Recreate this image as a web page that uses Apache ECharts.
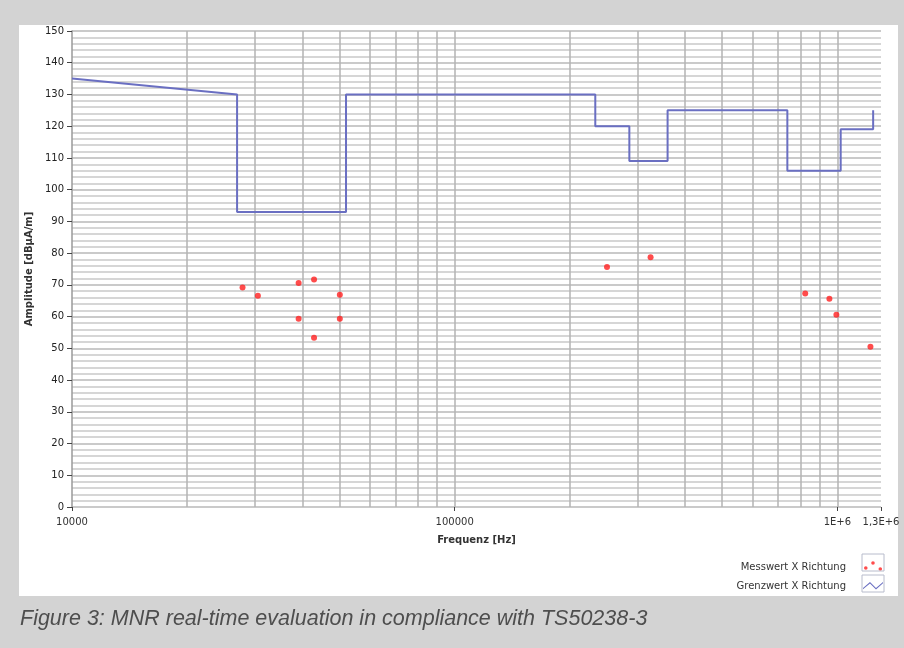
<!DOCTYPE html>
<html>
<head>
<meta charset="utf-8">
<script src="https://cdn.jsdelivr.net/npm/echarts@6/dist/echarts.min.js"></script>
<style>
html,body{margin:0;padding:0;background:#d3d3d3;}
#chart{width:904px;height:648px;}
</style>
</head>
<body>
<div id="chart"></div>
<script>
// ---- data ----
var limitFreq = [10000, 27000, 27000, 52000, 52000, 233000, 233000, 286000, 286000, 360000, 360000, 740000, 740000, 1020000, 1020000, 1240000, 1240000];
var limitAmp  = [135, 130, 93, 93, 130, 130, 120, 120, 109, 109, 125, 125, 106, 106, 119, 119, 125];
var measFreq = [27900, 30600, 39100, 42900, 50100, 39100, 50100, 42900, 250000, 325000, 824000, 953000, 994000, 1220000];
var measAmp  = [69.2, 66.6, 70.6, 71.7, 66.9, 59.3, 59.3, 53.3, 75.6, 78.7, 67.3, 65.6, 60.6, 50.5];
var xTickValues = [10000, 100000, 1000000, 1300000];
var xTickLabels = ['10000', '100000', '1E+6', '1,3E+6'];
var xGridValues = [20000, 30000, 40000, 50000, 60000, 70000, 80000, 90000, 100000,
                   200000, 300000, 400000, 500000, 600000, 700000, 800000, 900000, 1000000];
var seriesNames = ['Messwert X Richtung', 'Grenzwert X Richtung'];

var limitData = limitFreq.map(function (f, i) { return [f, limitAmp[i]]; });
var measData = measFreq.map(function (f, i) { return [f, measAmp[i]]; });

var chart = echarts.init(document.getElementById('chart'));
var font = 'DejaVu Sans';
chart.setOption({
  backgroundColor: '#d3d3d3',
  animation: false,
  graphic: [
    { type: 'rect', z: -10, shape: { x: 19, y: 25, width: 879, height: 571 }, style: { fill: '#ffffff' } },
    { type: 'rect', z: 10, shape: { x: 862, y: 554, width: 22, height: 17 }, style: { fill: 'none', stroke: '#b8bccc', lineWidth: 1 } },
    { type: 'rect', z: 10, shape: { x: 862, y: 575, width: 22, height: 17 }, style: { fill: 'none', stroke: '#b8bccc', lineWidth: 1 } },
    { type: 'text', left: 20, top: 608, style: { text: 'Figure 3: MNR real-time evaluation in compliance with TS50238-3', font: 'italic 21.5px "Liberation Sans"', fill: '#4e4e4e' } }
  ],
  grid: { left: 72, right: 23, top: 31, bottom: 141, containLabel: false },
  legend: {
    orient: 'vertical',
    right: 16,
    top: 555,
    align: 'right',
    itemGap: 5,
    itemWidth: 20,
    itemHeight: 14,
    textStyle: { fontFamily: font, fontSize: 10, color: '#333', padding: [0, 12, 0, 0] },
    data: [
      { name: seriesNames[0], icon: 'path://M1,8a1.8,1.8 0 1,0 3.6,0a1.8,1.8 0 1,0 -3.6,0 M8.2,3a1.8,1.8 0 1,0 3.6,0a1.8,1.8 0 1,0 -3.6,0 M15.5,9a1.8,1.8 0 1,0 3.6,0a1.8,1.8 0 1,0 -3.6,0 M0,0 L0.01,0 M20,14 L20.01,14' },
      { name: seriesNames[1], icon: 'path://M0,9 L7,3 L13,9 L20,3 L20,4.2 L13,10.4 L7,4.4 L0,10.2 Z M0,0 L0.01,0 M20,14 L20.01,14' }
    ]
  },
  xAxis: {
    type: 'log',
    logBase: 10,
    min: 10000,
    max: 1300000,
    name: 'Frequenz [Hz]',
    nameLocation: 'middle',
    nameGap: 28,
    nameTextStyle: { fontFamily: font, fontSize: 10, color: '#333', fontWeight: 'bold' },
    axisLine: { show: false },
    axisTick: { show: true, customValues: xTickValues, length: 4, lineStyle: { color: '#444' } },
    axisLabel: {
      customValues: xTickValues,
      fontFamily: font, fontSize: 10, color: '#333', margin: 10,
      formatter: function (v) {
        for (var i = 0; i < xTickValues.length; i++) {
          if (Math.abs(v - xTickValues[i]) / xTickValues[i] < 1e-6) return xTickLabels[i];
        }
        return '';
      }
    },
    splitLine: { show: false },
    minorTick: { show: false },
    minorSplitLine: { show: false }
  },
  yAxis: {
    type: 'value',
    min: 0,
    max: 150,
    interval: 10,
    name: 'Amplitude [dBµA/m]',
    nameLocation: 'middle',
    nameGap: 31,
    nameRotate: 90,
    nameTextStyle: { fontFamily: font, fontSize: 10, color: '#333', fontWeight: 'bold' },
    axisLine: { show: true, lineStyle: { color: '#9a9a9a', width: 1.5 } },
    axisTick: { show: true, length: 5, lineStyle: { color: '#444' } },
    axisLabel: { fontFamily: font, fontSize: 10, color: '#222', margin: 8 },
    splitLine: { show: true, lineStyle: { color: '#b9b9b9', width: 1.5 } },
    minorTick: { show: false, splitNumber: 5 },
    minorSplitLine: { show: true, lineStyle: { color: '#d6d6d6', width: 2 } }
  },
  series: [
    {
      name: seriesNames[0],
      type: 'scatter',
      data: measData,
      symbol: 'circle',
      symbolSize: 6,
      itemStyle: { color: '#ff1f1f' },
      z: 5
    },
    {
      name: seriesNames[1],
      type: 'line',
      data: limitData,
      symbol: 'none',
      lineStyle: { color: '#6a6fc2', width: 2 },
      itemStyle: { color: '#6a6fc2' },
      z: 4,
      markLine: {
        silent: true,
        symbol: 'none',
        label: { show: false },
        lineStyle: { color: '#b3b3b3', width: 1.5, type: 'solid' },
        emphasis: { disabled: true },
        data: xGridValues.map(function (v) { return { xAxis: v }; }),
        z: 1
      }
    }
  ]
});
</script>
</body>
</html>
